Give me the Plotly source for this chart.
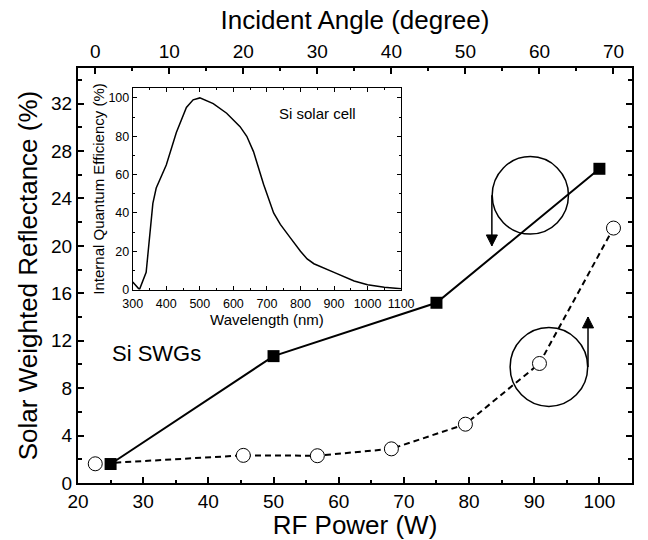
import plotly.graph_objects as go

# ---- data ----
rf_power = [25, 50, 75, 100]
refl_rf = [1.6, 10.7, 15.2, 26.5]

angle = [0, 20, 30, 40, 50, 60, 70]
refl_angle = [1.62, 2.33, 2.3, 2.88, 4.96, 10.08, 21.5]

wavelength = [300, 320, 340, 360, 370, 400, 430, 460, 480, 500, 540, 580, 620, 640,
              660, 690, 720, 740, 770, 800, 820, 840, 900, 960, 1000, 1050, 1100]
iqe = [4, 0, 9, 45, 53, 65, 82, 95, 99, 100, 97, 92, 85, 80,
       72, 55, 40, 34, 27, 20, 16, 13.5, 9, 4.5, 2.5, 1.2, 0.5]

FONT = "Liberation Sans, Arial, sans-serif"
BLACK = "black"

fig = go.Figure()

fig.add_trace(go.Scatter(
    x=angle, y=refl_angle, xaxis="x2", yaxis="y", mode="lines+markers",
    line=dict(color=BLACK, width=2, dash="6px,4px"),
    marker=dict(symbol="circle", size=14, color="white", line=dict(color=BLACK, width=1)),
    showlegend=False))

fig.add_trace(go.Scatter(
    x=rf_power, y=refl_rf, xaxis="x", yaxis="y", mode="lines+markers",
    line=dict(color=BLACK, width=2),
    marker=dict(symbol="square", size=12, color=BLACK),
    showlegend=False))

fig.add_trace(go.Scatter(
    x=wavelength, y=iqe, xaxis="x3", yaxis="y3", mode="lines",
    line=dict(color=BLACK, width=1.5), showlegend=False))

axis_common = dict(showline=True, linewidth=2, linecolor=BLACK, ticks="inside",
                   tickcolor=BLACK, tickwidth=1.5, showgrid=False, zeroline=False,
                   tickfont=dict(family=FONT, size=19, color=BLACK))

fig.update_layout(
    width=648, height=540,
    margin=dict(l=78, r=3, t=68, b=55),
    paper_bgcolor="white", plot_bgcolor="white",
    font=dict(family=FONT, color=BLACK),
    xaxis=dict(range=[20, 105], tick0=20, dtick=10, ticklen=6,
               minor=dict(dtick=5, ticklen=3, ticks="inside", tickcolor=BLACK),
               title=dict(text="RF Power (W)", font=dict(size=26), standoff=7),
               **axis_common),
    xaxis2=dict(range=[-2.33, 72.5], tick0=0, dtick=10, ticklen=6, side="top",
                overlaying="x", anchor="y",
                minor=dict(dtick=5, ticklen=3, ticks="inside", tickcolor=BLACK),
                title=dict(text="Incident Angle (degree)", font=dict(size=26), standoff=4),
                **axis_common),
    yaxis=dict(range=[0, 35], tick0=0, dtick=4, ticklen=6, mirror="ticks",
               minor=dict(dtick=2, ticklen=4, ticks="inside", tickcolor=BLACK),
               title=dict(text="Solar Weighted Reflectance (%)", font=dict(size=26), standoff=6),
               **axis_common),
    xaxis3=dict(domain=[0.0988, 0.5832], anchor="y3", range=[300, 1100], dtick=100,
                showline=True, linewidth=1, linecolor=BLACK, mirror="ticks",
                ticks="inside", ticklen=4, tickcolor=BLACK, tickwidth=1,
                minor=dict(dtick=50, ticklen=2, ticks="inside", tickcolor=BLACK),
                showgrid=False, zeroline=False, ticklabelstandoff=2,
                tickfont=dict(family=FONT, size=12.5, color=BLACK),
                title=dict(text="Wavelength (nm)", font=dict(size=15), standoff=0)),
    yaxis3=dict(domain=[0.466, 0.951], anchor="x3", range=[0, 105], dtick=20,
                showline=True, linewidth=1, linecolor=BLACK, mirror="ticks",
                ticks="inside", ticklen=4, tickcolor=BLACK, tickwidth=1,
                minor=dict(dtick=10, ticklen=2, ticks="inside", tickcolor=BLACK),
                showgrid=False, zeroline=False,
                tickfont=dict(family=FONT, size=12.5, color=BLACK),
                title=dict(text="Internal Quantum Efficiency (%)", font=dict(size=15), standoff=0)),
)

fig.add_annotation(text="Si solar cell", x=0.69, y=0.875, xref="x3 domain", yref="y3 domain",
                   xanchor="center", yanchor="middle",
                   showarrow=False, font=dict(size=15, family=FONT, color=BLACK))
fig.add_annotation(text="Si SWGs", x=32, y=10.9, xref="x", yref="y",
                   xanchor="center", yanchor="middle",
                   showarrow=False, font=dict(size=22, family=FONT, color=BLACK))

# decorative circles with arrows (incident-angle sketches)
def circle(cx, cy, rx, ry):
    fig.add_shape(type="circle", xref="x", yref="y", x0=cx - rx, x1=cx + rx,
                  y0=cy - ry, y1=cy + ry, line=dict(color=BLACK, width=1.5))

def arrow(x, y0, y1, hw, hh):
    fig.add_shape(type="line", xref="x", yref="y", x0=x, x1=x, y0=y0, y1=y1,
                  line=dict(color=BLACK, width=1.5))
    d = 1 if y1 > y0 else -1
    base = y1 - d * hh
    fig.add_shape(type="path", xref="x", yref="y",
                  path=f"M {x - hw},{base} L {x + hw},{base} L {x},{y1} Z",
                  fillcolor=BLACK, line=dict(color=BLACK, width=1))

circle(89.4, 24.26, 5.85, 3.27)
arrow(83.5, 24.26, 20.0, 0.85, 0.92)
circle(92.25, 9.79, 5.95, 3.33)
arrow(98.25, 9.79, 14.0, 0.85, 0.92)

fig.write_html("out.html")
